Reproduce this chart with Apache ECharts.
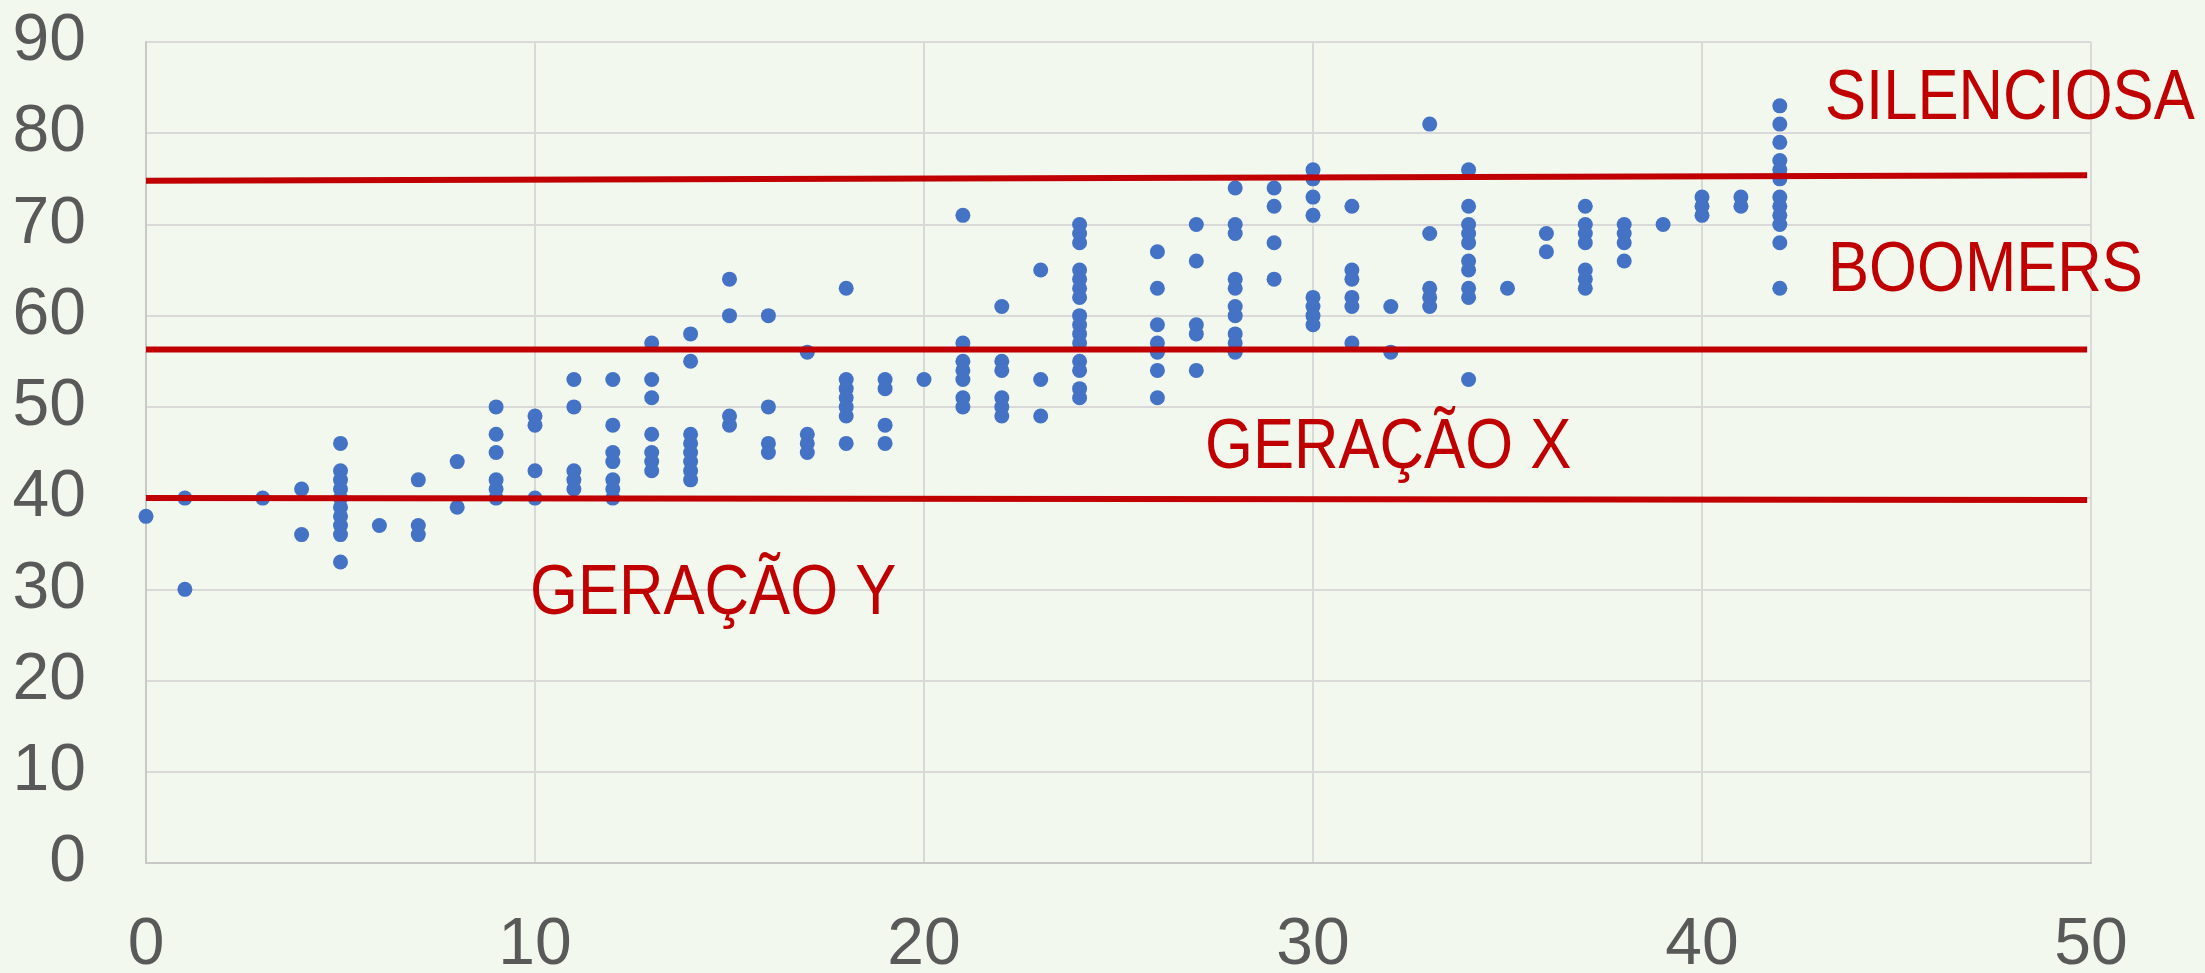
<!DOCTYPE html>
<html>
<head>
<meta charset="utf-8">
<script src="https://cdn.jsdelivr.net/npm/echarts@6/dist/echarts.min.js"></script>
<style>
  html, body { margin: 0; padding: 0; background: #F3F8EE; }
  #chart { width: 2205px; height: 973px; }
</style>
</head>
<body>
<div id="chart"></div>
<script>
// x positions (columns) and the y values found in each column
const xColumns = [0, 1, 3, 4, 5, 6, 7, 8, 9, 10, 11, 12, 13, 14, 15, 16, 17, 18, 19, 20, 21, 22, 23, 24, 26, 27, 28, 29, 30, 31, 32, 33, 34, 35, 36, 37, 38, 39, 40, 41, 42];
const yByColumn = [
  [38],
  [40, 30],
  [40],
  [41, 36],
  [46, 43, 42, 41, 40, 39, 38, 37, 36, 33],
  [37],
  [42, 37, 36],
  [44, 39],
  [50, 47, 45, 42, 41, 40],
  [49, 48, 43, 40],
  [53, 50, 43, 42, 41],
  [53, 48, 45, 44, 42, 41, 40],
  [57, 53, 51, 47, 45, 44, 43],
  [58, 55, 47, 46, 45, 44, 43, 42],
  [64, 60, 49, 48],
  [60, 50, 46, 45],
  [56, 47, 46, 45],
  [63, 53, 52, 51, 50, 49, 46],
  [53, 52, 48, 46],
  [53],
  [71, 57, 55, 54, 53, 51, 50],
  [61, 55, 54, 51, 50, 49],
  [65, 53, 49],
  [70, 69, 68, 65, 64, 63, 62, 60, 59, 58, 57, 55, 54, 52, 51],
  [67, 63, 59, 57, 56, 54, 51],
  [70, 66, 59, 58, 54],
  [74, 70, 69, 64, 63, 61, 60, 58, 57, 56],
  [74, 72, 68, 64],
  [76, 75, 73, 71, 62, 61, 60, 59],
  [72, 65, 64, 62, 61, 57],
  [61, 56],
  [81, 69, 63, 62, 61],
  [76, 72, 70, 69, 68, 66, 65, 63, 62, 53],
  [63],
  [69, 67],
  [72, 70, 69, 68, 65, 64, 63],
  [70, 69, 68, 66],
  [70],
  [73, 72, 71],
  [73, 72],
  [83, 81, 79, 77, 76, 75, 73, 72, 71, 70, 68, 63]
];

// generation boundary lines (value at left end, value at right end)
const boundaryX = [0, 49.9];
const boundaryStart = [74.8, 56.3, 40.0];
const boundaryEnd = [75.4, 56.3, 39.8];

// generation labels
const generationLabels = ['SILENCIOSA', 'BOOMERS', 'GERAÇÃO X', 'GERAÇÃO Y'];

// axis ticks
const xTicks = { min: 0, max: 50, interval: 10 };
const yTicks = { min: 0, max: 90, interval: 10 };

const points = [];
xColumns.forEach((x, i) => yByColumn[i].forEach(y => points.push([x, y])));

const lineSeries = boundaryStart.map((s, i) => ({
  type: 'line',
  data: [[boundaryX[0], s], [boundaryX[1], boundaryEnd[i]]],
  symbol: 'none',
  lineStyle: { color: '#C00000', width: 6 },
  z: 5,
  silent: true,
  animation: false
}));

const labelFont = '"Liberation Sans", Arial, sans-serif';
const labelAnchor = [
  { x: 1825, y: 100 },
  { x: 1828, y: 272 },
  { x: 1205, y: 449 },
  { x: 530, y: 595 }
];

const chart = echarts.init(document.getElementById('chart'), null, { renderer: 'canvas' });
chart.setOption({
  backgroundColor: '#F3F8EE',
  animation: false,
  grid: { left: 146, right: 114, top: 42, bottom: 110, containLabel: false, outerBoundsMode: 'none' },
  xAxis: {
    type: 'value',
    min: xTicks.min, max: xTicks.max, interval: xTicks.interval,
    axisLine: { show: true, lineStyle: { color: '#C8C8C8', width: 2 } },
    axisTick: { show: false },
    splitLine: { show: true, lineStyle: { color: '#D9D9D9', width: 2 } },
    axisLabel: { color: '#595959', fontSize: 66, fontFamily: labelFont, margin: 50 }
  },
  yAxis: {
    type: 'value',
    min: yTicks.min, max: yTicks.max, interval: yTicks.interval,
    axisLine: { show: true, lineStyle: { color: '#C8C8C8', width: 2 } },
    axisTick: { show: false },
    splitLine: { show: true, lineStyle: { color: '#D9D9D9', width: 2 } },
    axisLabel: { color: '#595959', fontSize: 66, fontFamily: labelFont, margin: 60 }
  },
  series: [
    {
      type: 'scatter',
      data: points,
      symbol: 'circle',
      symbolSize: 15,
      itemStyle: { color: '#4472C4', opacity: 1 },
      z: 3
    }
  ].concat(lineSeries),
  graphic: generationLabels.map((t, i) => ({
    type: 'text',
    x: labelAnchor[i].x,
    y: labelAnchor[i].y,
    scaleX: 0.88,
    style: {
      text: t,
      fill: '#C00000',
      font: '70px ' + labelFont,
      textAlign: 'left',
      textVerticalAlign: 'middle',
      verticalAlign: 'middle'
    },
    z: 10
  }))
});
</script>
</body>
</html>
